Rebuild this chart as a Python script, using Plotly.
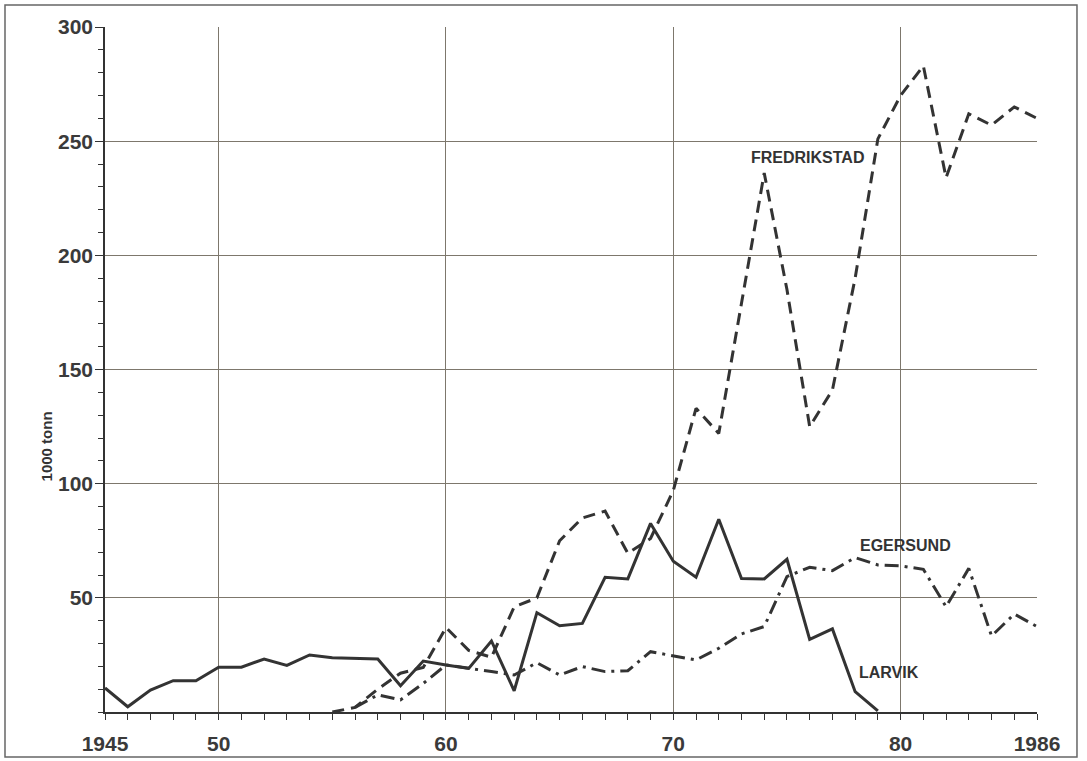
import plotly.graph_objects as go

years = list(range(1945, 1987))

larvik = [10.5, 2.3, 9.6, 13.7, 13.7, 19.6, 19.6, 23.2, 20.4, 25.0,
          23.8, 23.4, 23.2, 11.5, 22.3, 20.6, 19.1, 31.1, 9.3, 43.5,
          37.8, 38.8, 59.0, 58.3, 82.6, 66.0, 59.0, 84.4, 58.5, 58.3,
          66.9, 31.8, 36.4, 8.9, 0.5] + [None] * 7

fredrikstad = [None] * 10 + [0.0, 2.0, 10.0, 17.0, 19.5, 37.0, 27.0, 24.0, 46.0, 50.0,
               75.0, 85.0, 88.0, 69.5, 76.0, 97.0, 133.0, 122.0, 179.0, 236.0,
               185.0, 125.0, 141.0, 190.0, 251.0, 270.0, 283.0, 234.0, 262.0, 257.0,
               265.0, 260.0]

egersund = [None] * 11 + [2.0, 7.5, 5.3, 12.5, 20.6, 19.3, 17.7, 16.2, 21.6,
            16.2, 19.9, 17.7, 18.1, 26.4, 24.5, 22.8, 27.9, 34.2, 37.4,
            59.3, 63.4, 61.9, 67.6, 64.4, 64.0, 62.5, 46.1, 62.9, 33.3,
            42.9, 37.4]

x_tickvals = [1945, 1950, 1960, 1970, 1980, 1986]
x_ticktext = ["1945", "50", "60", "70", "80", "1986"]
y_tickvals = [50, 100, 150, 200, 250, 300]

labels = [("FREDRIKSTAD", 1975.9, 243), ("EGERSUND", 1980.2, 73), ("LARVIK", 1979.5, 17.5)]

ink = "#333333"
grid = "#7d776c"
font = "Liberation Sans, Arial, sans-serif"

fig = go.Figure()
fig.add_trace(go.Scatter(x=years, y=larvik, mode="lines", name="Larvik",
                         line=dict(color=ink, width=3), connectgaps=False))
fig.add_trace(go.Scatter(x=years, y=fredrikstad, mode="lines", name="Fredrikstad",
                         line=dict(color=ink, width=3, dash="12px,7px"), connectgaps=False))
fig.add_trace(go.Scatter(x=years, y=egersund, mode="lines", name="Egersund",
                         line=dict(color=ink, width=3, dash="14px,6px,3px,6px"), connectgaps=False))

for txt, lx, ly in labels:
    fig.add_annotation(x=lx, y=ly, text=txt, showarrow=False,
                       font=dict(family=font, size=16, color=ink, weight="bold"))

fig.add_annotation(xref="paper", yref="paper", x=-0.074, y=0.387, text="1000 tonn",
                   textangle=-90, showarrow=False,
                   font=dict(family=font, size=15, color=ink, weight="bold"))

fig.add_shape(type="rect", xref="paper", yref="paper",
              x0=-0.1073, x1=1.0429, y0=-0.0657, y1=1.0321,
              line=dict(color="#666666", width=1.5))

fig.update_layout(
    width=1087, height=761,
    margin=dict(l=105, r=50, t=27, b=49),
    paper_bgcolor="white", plot_bgcolor="white",
    showlegend=False,
    font=dict(family=font, color=ink),
    xaxis=dict(range=[1945, 1986], tickvals=x_tickvals, ticktext=x_ticktext,
               automargin=False,
               showgrid=True, gridcolor=grid, gridwidth=1,
               showline=True, linecolor=ink, linewidth=1.5,
               ticks="outside", ticklen=6, tickcolor=ink, tickwidth=1.2,
               ticklabelstandoff=6,
               tickfont=dict(family=font, size=21, color="#3a3a3a", weight="bold"),
               minor=dict(dtick=1, tick0=1945, ticks="outside", ticklen=6,
                          tickcolor=ink, tickwidth=1.2, showgrid=False),
               zeroline=False),
    yaxis=dict(range=[0, 300], tickvals=y_tickvals,
               automargin=False,
               showgrid=True, gridcolor=grid, gridwidth=1,
               showline=True, linecolor=ink, linewidth=1.5,
               ticks="outside", ticklen=8, tickcolor=ink, tickwidth=1.2,
               ticklabelstandoff=-2,
               tickfont=dict(family=font, size=21, color="#3a3a3a", weight="bold"),
               minor=dict(dtick=10, tick0=0, ticks="outside", ticklen=5,
                          tickcolor=ink, tickwidth=1.2, showgrid=False),
               zeroline=False),
)

fig.write_html("out.html",
               config={"responsive": False, "displayModeBar": False},
               post_script="document.documentElement.style.margin='0';"
                           "document.body.style.margin='0';"
                           "document.body.style.overflow='hidden';"
                           "document.documentElement.style.overflow='hidden';")
